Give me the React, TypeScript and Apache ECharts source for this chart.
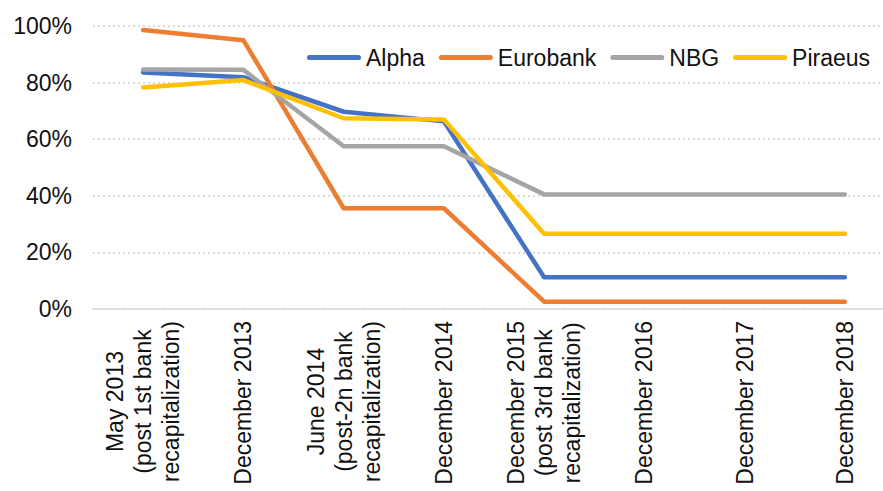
import React, { useEffect, useRef } from "react";
import * as echarts from "echarts";

const categories = [
  "May 2013\n(post 1st bank\nrecapitalization)",
  "December 2013",
  "June 2014\n(post-2n bank\nrecapitalization)",
  "December 2014",
  "December 2015\n(post 3rd bank\nrecapitalization)",
  "December 2016",
  "December 2017",
  "December 2018",
];

const alpha = [83.6, 81.9, 69.7, 66.3, 11.2, 11.2, 11.2, 11.2];
const eurobank = [98.6, 95.0, 35.6, 35.6, 2.6, 2.6, 2.6, 2.6];
const nbg = [84.6, 84.5, 57.5, 57.5, 40.5, 40.5, 40.5, 40.5];
const piraeus = [78.3, 80.9, 67.4, 67.0, 26.6, 26.6, 26.6, 26.6];

const yTicks = [0, 20, 40, 60, 80, 100];

const FONT = "'Liberation Sans', Arial, sans-serif";
const LEGEND_ICON =
  "path://M2.5,0 L51.5,0 A2.5,2.5 0 0 1 51.5,5 L2.5,5 A2.5,2.5 0 0 1 2.5,0 Z";

export default function App() {
  const ref = useRef<HTMLDivElement>(null);

  useEffect(() => {
    if (!ref.current) return;
    const chart = echarts.init(ref.current, undefined, { renderer: "svg" });
    const mk = (name: string, data: number[], color: string) => ({
      name,
      type: "line",
      data,
      symbol: "none",
      showSymbol: false,
      color,
      itemStyle: { color },
      lineStyle: { color, width: 4.5, cap: "round", join: "round" },
    });
    chart.setOption({
      animation: false,
      backgroundColor: "#ffffff",
      textStyle: { fontFamily: FONT },
      grid: {
        left: 93,
        right: -12,
        top: 26,
        bottom: 182,
        containLabel: false,
        outerBoundsMode: "none",
      },
      legend: {
        top: 41,
        left: 302,
        icon: LEGEND_ICON,
        itemWidth: 54,
        itemHeight: 5,
        itemGap: 14,
        itemStyle: { borderWidth: 0 },
        textStyle: { fontSize: 23, color: "#111", fontFamily: FONT },
        data: ["Alpha", "Eurobank", "NBG", "Piraeus"],
      },
      xAxis: {
        type: "category",
        data: categories,
        boundaryGap: true,
        axisLine: { show: true, lineStyle: { color: "#d9d9d9", width: 1.5 } },
        axisTick: { show: false },
        axisLabel: {
          interval: 0,
          rotate: 90,
          margin: 12,
          color: "#111",
          fontSize: 23,
          lineHeight: 28,
          fontFamily: FONT,
          formatter: (v: string) =>
            v
              .split("\n")
              .map((l) => `{c|${l}}`)
              .join("\n"),
          rich: {
            c: {
              align: "center",
              fontSize: 23,
              lineHeight: 28,
              color: "#111",
              fontFamily: FONT,
            },
          },
        },
        splitLine: { show: false },
      },
      yAxis: {
        type: "value",
        min: yTicks[0],
        max: yTicks[yTicks.length - 1],
        interval: 20,
        axisLine: { show: false },
        axisTick: { show: false },
        axisLabel: {
          formatter: "{value}%",
          fontSize: 23,
          color: "#111",
          margin: 21,
          fontFamily: FONT,
        },
        splitLine: {
          show: true,
          lineStyle: { color: "#d0d0d0", type: [2, 3], width: 1.5 },
        },
      },
      series: [
        mk("Alpha", alpha, "#4472C4"),
        mk("Eurobank", eurobank, "#ED7D31"),
        mk("NBG", nbg, "#A5A5A5"),
        mk("Piraeus", piraeus, "#FFC000"),
      ],
    });
    return () => chart.dispose();
  }, []);

  return (
    <div
      ref={ref}
      style={{ position: "fixed", left: 0, top: 0, width: 883, height: 491, background: "#fff" }}
    />
  );
}
